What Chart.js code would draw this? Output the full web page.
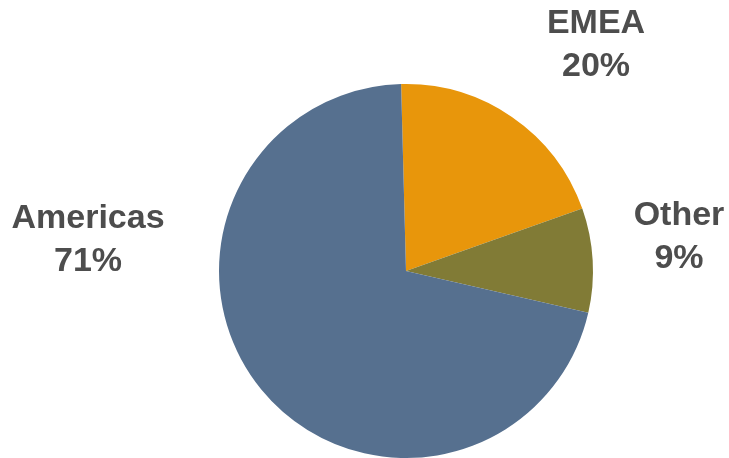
<!DOCTYPE html>
<html>
<head>
<meta charset="utf-8">
<script src="https://cdn.jsdelivr.net/npm/chart.js@4"></script>
<style>
  html, body { margin: 0; padding: 0; background: #fff; }
  #wrap { width: 729px; height: 458px; }
</style>
</head>
<body>
<div id="wrap"><canvas id="pieChart" width="729" height="458"></canvas></div>
<script>
// 数据
const regions = ['EMEA', 'Other', 'Americas'];
const shares = [20, 9, 71];
const sliceColors = ['#E8960B', '#817B36', '#56708F'];
// 标签位置 (中心x, 第一行基线y)
const labelPos = [[596, 33], [679, 225], [88, 228]];

// 外部标签
const outsideLabels = {
  id: 'outsideLabels',
  afterDraw(chart) {
    const ctx = chart.ctx;
    ctx.save();
    ctx.font = 'bold 34px "Liberation Sans", Arial, sans-serif';
    ctx.fillStyle = '#4D4D4D';
    ctx.textAlign = 'center';
    ctx.textBaseline = 'alphabetic';
    chart.data.labels.forEach((name, i) => {
      const [x, y] = labelPos[i];
      ctx.fillText(name, x, y);
      ctx.fillText(chart.data.datasets[0].data[i] + '%', x, y + 43);
    });
    ctx.restore();
  }
};

new Chart(document.getElementById('pieChart'), {
  type: 'pie',
  data: {
    labels: regions,
    datasets: [{
      data: shares,
      backgroundColor: sliceColors,
      borderWidth: 0
    }]
  },
  options: {
    responsive: false,
    animation: false,
    rotation: -1.5,
    layout: { padding: { left: 219, right: 136, top: 84, bottom: 0 } },
    plugins: {
      legend: { display: false },
      tooltip: { enabled: false }
    }
  },
  plugins: [outsideLabels]
});
</script>
</body>
</html>
